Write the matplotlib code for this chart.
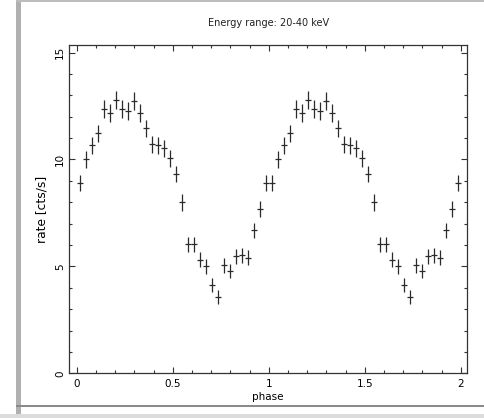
import numpy as np
import matplotlib
matplotlib.use("Agg")
import matplotlib.pyplot as plt
from matplotlib.patches import Rectangle
from matplotlib.ticker import MultipleLocator

# one pulse cycle, 32 phase bins (plotted twice)
rate_cycle = [8.90, 10.00, 10.67, 11.22, 12.36, 12.16, 12.78, 12.36,
              12.28, 12.71, 12.16, 11.46, 10.71, 10.67, 10.52, 10.05,
              9.32, 7.99, 6.03, 6.03, 5.31, 5.00, 4.14, 3.56,
              5.05, 4.78, 5.47, 5.52, 5.41, 6.69, 7.70, 8.91]
err_cycle = [0.38, 0.40, 0.40, 0.40, 0.42, 0.42, 0.42, 0.42,
             0.42, 0.42, 0.42, 0.40, 0.40, 0.40, 0.40, 0.40,
             0.38, 0.38, 0.36, 0.36, 0.35, 0.35, 0.33, 0.32,
             0.35, 0.34, 0.35, 0.35, 0.35, 0.36, 0.37, 0.38]
n_bins = 32

phase = (np.arange(2 * n_bins) + 0.5) / n_bins
rate = np.tile(rate_cycle, 2)
rate_err = np.tile(err_cycle, 2)
phase_err = 0.5 / n_bins

fig = plt.figure(figsize=(4.85, 4.18), dpi=100)
ax = fig.add_axes([0.1429, 0.1069, 0.8193, 0.7854])

ax.errorbar(phase, rate, xerr=phase_err, yerr=rate_err, fmt='none',
            ecolor='#2a2a2a', elinewidth=0.9, capsize=0)

ax.set_xlim(-0.039, 2.031)
ax.set_ylim(0, 15.35)
ax.xaxis.set_major_locator(MultipleLocator(0.5))
ax.xaxis.set_minor_locator(MultipleLocator(0.1))
ax.yaxis.set_major_locator(MultipleLocator(5))
ax.yaxis.set_minor_locator(MultipleLocator(1))
ax.xaxis.set_major_formatter(plt.FuncFormatter(lambda v, p: f"{v:g}"))

ax.tick_params(which='both', direction='in', top=True, right=True,
               color='#333333', width=0.8, labelsize=7.5)
ax.tick_params(which='major', length=4)
ax.tick_params(which='minor', length=2)
ax.tick_params(axis='x', pad=4)
ax.tick_params(axis='y', pad=3, labelrotation=90)
for lab in ax.get_yticklabels():
    lab.set_va('center')
for sp in ax.spines.values():
    sp.set_linewidth(0.9)
    sp.set_color('#333333')

ax.set_xlabel("phase", fontsize=7.5, labelpad=2)
ax.set_ylabel("rate [cts/s]", fontsize=8.8, labelpad=5)
fig.text(0.553, 1 - 23 / 418, "Energy range: 20-40 keV", fontsize=7,
         ha='center', va='center', color='#222222')

# grey window frame around the plot
W, H = 485.0, 418.0
fig.add_artist(Rectangle((16 / W, 0), 5 / W, 1, transform=fig.transFigure,
                         color='#b0b0b0', lw=0))
fig.add_artist(Rectangle((16 / W, 1 - 1.5 / H), 1, 1.5 / H,
                         transform=fig.transFigure, color='#bdbdbd', lw=0))
fig.add_artist(Rectangle((16 / W, 1 - 407 / H), 1, 2 / H,
                         transform=fig.transFigure, color='#8a8a8a', lw=0))
fig.add_artist(Rectangle((0, 0), 1, 4.5 / H, transform=fig.transFigure,
                         color='#dcdcdc', lw=0))

fig.savefig("out.png", dpi=100)
